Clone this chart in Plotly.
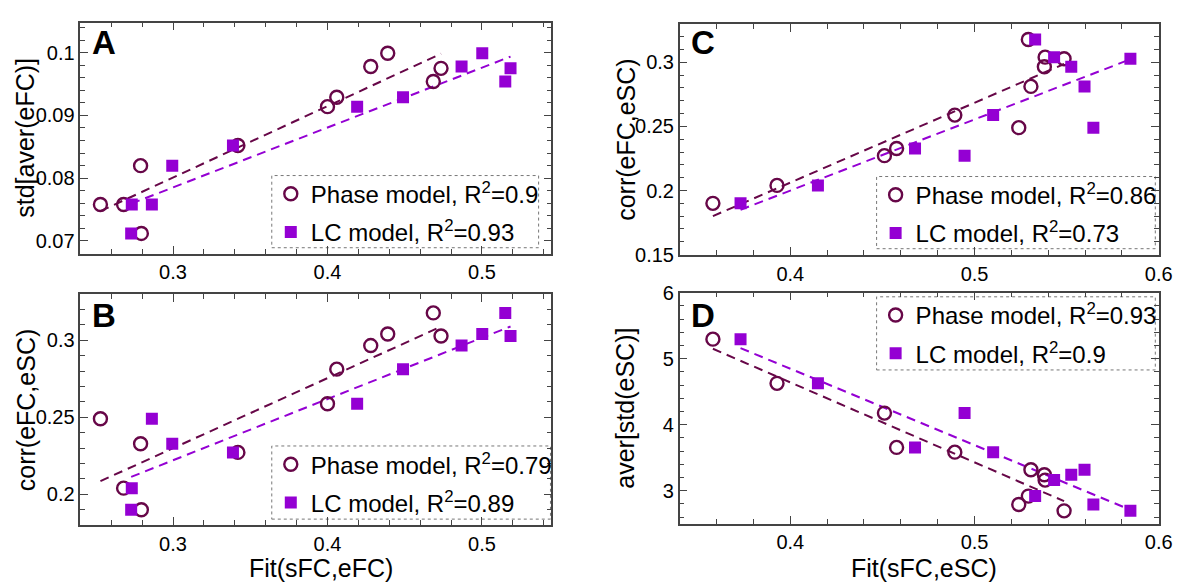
import numpy as np
import plotly.graph_objects as go

# ---------------- data (11 subjects) ----------------
phase_fit_fc = [0.253, 0.268, 0.279, 0.2795, 0.342, 0.400, 0.406, 0.428, 0.439, 0.4685, 0.4735]
lc_fit_fc = [0.2863, 0.2733, 0.2995, 0.2729, 0.3388, 0.4192, 0.4489, 0.4868, 0.5002, 0.5151, 0.5185]
phase_fit_sc = [0.524, 0.3928, 0.4577, 0.358, 0.4511, 0.4893, 0.5306, 0.5379, 0.5383, 0.5292, 0.5486]
lc_fit_sc = [0.5645, 0.415, 0.4677, 0.373, 0.4946, 0.5101, 0.5597, 0.5525, 0.5432, 0.5329, 0.5846]
std_aver_efc = [0.0758, 0.0758, 0.0820, 0.0712, 0.0852, 0.0914, 0.0929, 0.0978, 0.0999, 0.0954, 0.0975]
corr_efc_esc = [0.249, 0.204, 0.2328, 0.190, 0.2272, 0.2588, 0.2812, 0.2965, 0.304, 0.3177, 0.3027]
aver_std_esc = [2.79, 4.626, 3.655, 5.296, 4.175, 3.583, 3.316, 3.24, 3.16, 2.917, 2.694]

legend_labels = {
    "A": ["Phase model, R<sup>2</sup>=0.9", "LC model, R<sup>2</sup>=0.93"],
    "B": ["Phase model, R<sup>2</sup>=0.79", "LC model, R<sup>2</sup>=0.89"],
    "C": ["Phase model, R<sup>2</sup>=0.86", "LC model, R<sup>2</sup>=0.73"],
    "D": ["Phase model, R<sup>2</sup>=0.93", "LC model, R<sup>2</sup>=0.9"],
}
x_titles = {"A": "", "B": "Fit(sFC,eFC)", "C": "", "D": "Fit(sFC,eSC)"}
y_titles = {"A": "std[aver(eFC)]", "B": "corr(eFC,eSC)", "C": "corr(eFC,eSC)", "D": "aver[std(eSC)]"}

PHASE_COLOR = "rgb(103,7,72)"
LC_COLOR = "rgb(148,0,211)"
W, H = 1195, 584
FONT = "Liberation Sans, Arial, Helvetica, sans-serif"

panels = {
    # name: (phase_x, lc_x, y, xaxis, yaxis, legend)
    "A": (phase_fit_fc, lc_fit_fc, std_aver_efc, "x", "y", "legend"),
    "B": (phase_fit_fc, lc_fit_fc, corr_efc_esc, "x2", "y2", "legend2"),
    "C": (phase_fit_sc, lc_fit_sc, corr_efc_esc, "x3", "y3", "legend3"),
    "D": (phase_fit_sc, lc_fit_sc, aver_std_esc, "x4", "y4", "legend4"),
}

fig = go.Figure()
for name, (px_, lx_, y_, xa, ya, lg) in panels.items():
    for xs, col in ((px_, PHASE_COLOR), (lx_, LC_COLOR)):
        xs_a = np.array(xs); ys_a = np.array(y_)
        k, b = np.polyfit(xs_a, ys_a, 1)
        xl = np.array([xs_a.min(), xs_a.max()])
        fig.add_trace(go.Scatter(x=xl, y=k * xl + b, mode="lines", xaxis=xa, yaxis=ya,
                                 line=dict(color=col, width=2, dash="9px,6px"),
                                 showlegend=False, hoverinfo="skip"))
    fig.add_trace(go.Scatter(x=px_, y=y_, mode="markers", xaxis=xa, yaxis=ya,
                             name=legend_labels[name][0], legend=lg, legendgroup=name + "p",
                             marker=dict(symbol="circle-open", size=13, color=PHASE_COLOR,
                                         line=dict(width=2.4, color=PHASE_COLOR))))
    fig.add_trace(go.Scatter(x=lx_, y=y_, mode="markers", xaxis=xa, yaxis=ya,
                             name=legend_labels[name][1], legend=lg, legendgroup=name + "l",
                             marker=dict(symbol="square", size=12, color=LC_COLOR,
                                         line=dict(width=0))))

def px2x(p):
    return p / W

def px2y(p):
    return 1 - p / H

frames = {
    "A": (81.3, 558.0, 12.0, 252.0),
    "B": (81.3, 558.0, 294.0, 534.3),
    "C": (687.8, 1172.7, 13.3, 253.3),
    "D": (687.8, 1172.7, 292.7, 532.7),
}
ranges = {
    "A": ([0.24, 0.545], [0.068, 0.1048], 0.1, 0.02, 0.01, 0.002),
    "B": ([0.24, 0.545], [0.18, 0.33], 0.1, 0.02, 0.05, 0.01),
    "C": ([0.34, 0.6001], [0.1499, 0.33], 0.1, 0.02, 0.05, 0.01),
    "D": ([0.34, 0.6001], [2.5, 6.0001], 0.1, 0.02, 1, 0.2),
}
axis_common = dict(showline=True, linecolor="#444", linewidth=1.5, mirror="allticks",
                   ticks="inside", ticklen=8, tickwidth=1.3, tickcolor="#444",
                   showgrid=False, zeroline=False,
                   tickfont=dict(family=FONT, size=20, color="black"))
layout_axes = {}
for i, name in enumerate("ABCD"):
    l, r, t, b = frames[name]
    xr, yr, xd, xm, yd, ym = ranges[name]
    sfx = "" if i == 0 else str(i + 1)
    layout_axes["xaxis" + sfx] = dict(axis_common, domain=[px2x(l), px2x(r)], range=xr, dtick=xd, tick0=0,
                                      anchor="y" + sfx,
                                      minor=dict(ticks="inside", ticklen=5, dtick=xm, tick0=0, tickcolor="#444", showgrid=False))
    layout_axes["yaxis" + sfx] = dict(axis_common, domain=[px2y(b), px2y(t)], range=yr, dtick=yd, tick0=0,
                                      anchor="x" + sfx,
                                      minor=dict(ticks="inside", ticklen=5, dtick=ym, tick0=0, tickcolor="#444", showgrid=False))

fig.update_layout(width=W, height=H, margin=dict(l=0, r=0, t=0, b=0),
                  paper_bgcolor="white", plot_bgcolor="white",
                  font=dict(family=FONT, color="black"), **layout_axes)

# legend boxes (dotted)
legend_boxes = {
    "A": (275, 545, 171, 246),
    "B": (275, 557, 452, 528),
    "C": (887, 1169, 172, 247),
    "D": (887, 1169, 297, 373),
}
shapes = []
leg_layout = {}
for i, name in enumerate("ABCD"):
    l, r, t, b = legend_boxes[name]
    shapes.append(dict(type="rect", xref="paper", yref="paper", x0=px2x(l), x1=px2x(r),
                       y0=px2y(b), y1=px2y(t), line=dict(color="#777", width=1, dash="dot"),
                       fillcolor="rgba(0,0,0,0)", layer="below"))
    key = "legend" if i == 0 else "legend" + str(i + 1)
    leg_layout[key] = dict(x=px2x(l - 1), y=px2y(t - 4), xanchor="left", yanchor="top",
                           bgcolor="rgba(0,0,0,0)", borderwidth=0,
                           font=dict(family=FONT, size=24, color="black"),
                           traceorder="grouped", tracegroupgap=4)
fig.update_layout(shapes=shapes, **leg_layout)

annotations = []
letter_pos = {"A": (91, 33), "B": (91, 316), "C": (697, 33), "D": (697, 316)}
for name, (lx, ly) in letter_pos.items():
    annotations.append(dict(text="<b>%s</b>" % name, xref="paper", yref="paper", x=px2x(lx), y=px2y(ly),
                            xanchor="left", yanchor="middle", showarrow=False,
                            font=dict(family=FONT, size=33, color="black")))
# axis titles
ytitle_x = {"A": 25, "B": 26, "C": 634, "D": 633}
for name in "ABCD":
    l, r, t, b = frames[name]
    annotations.append(dict(text=y_titles[name], xref="paper", yref="paper", x=px2x(ytitle_x[name]),
                            y=px2y((t + b) / 2), xanchor="center", yanchor="middle", textangle=-90,
                            showarrow=False, font=dict(family=FONT, size=25, color="black")))
    if x_titles[name]:
        annotations.append(dict(text=x_titles[name], xref="paper", yref="paper", x=px2x((l + r) / 2 + 5),
                                y=px2y(579), xanchor="center", yanchor="middle",
                                showarrow=False, font=dict(family=FONT, size=25, color="black")))
fig.update_layout(annotations=annotations)

fig.write_html("out.html", config={"displayModeBar": False},
               post_script="document.body.style.margin='0';document.body.style.overflow='hidden';")
